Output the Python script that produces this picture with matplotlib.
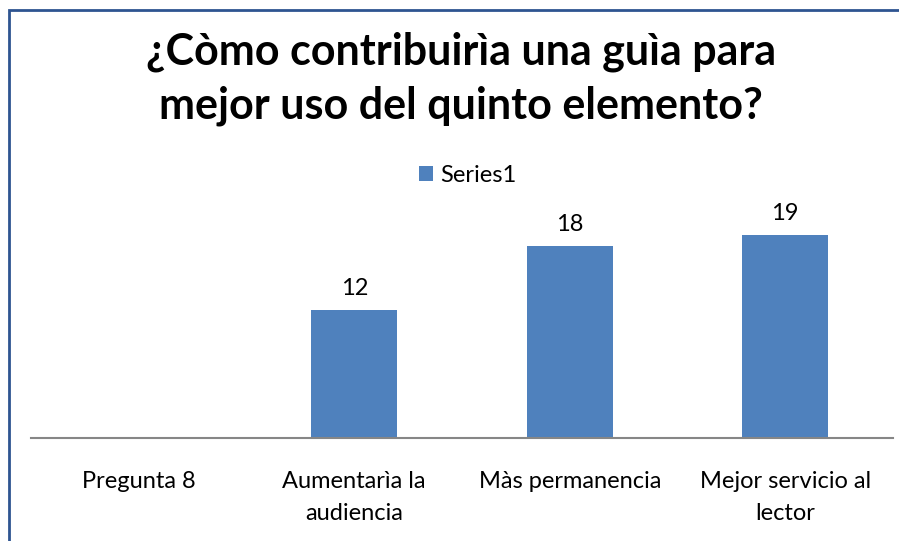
import matplotlib.pyplot as plt
from matplotlib.patches import Rectangle

plt.rcParams['font.family'] = ['Lato', 'DejaVu Sans']

# Values
categories = ["Pregunta 8", "Aumentarìa la\naudiencia", "Màs permanencia", "Mejor servicio al\nlector"]
values = [None, 12, 18, 19]
series_name = "Series1"
title_lines = ["¿Còmo contribuirìa una guìa para", "mejor uso del quinto elemento?"]

W, H = 899, 541
fig = plt.figure(figsize=(W / 100, H / 100), dpi=100)
ax = fig.add_axes([31 / W, 103 / H, (893 - 31) / W, (438 - 224.6) / H])

x = list(range(len(categories)))
heights = [v if v is not None else 0 for v in values]
bars = ax.bar(x, heights, width=0.4, color="#4F81BD", label=series_name)
for xi, v in zip(x, values):
    if v is None:
        continue
    ax.annotate(str(v), (xi, v), xytext=(0, 8), textcoords="offset points",
                ha="center", va="bottom", fontsize=17, annotation_clip=False)

ax.set_xlim(-0.5, len(categories) - 0.5)
ax.set_ylim(0, 20)
ax.set_yticks([])
ax.set_xticks(x)
ax.set_xticklabels(categories, fontsize=17, linespacing=1.65)
ax.tick_params(axis="x", length=0, pad=24)
for s in ["top", "right", "left"]:
    ax.spines[s].set_visible(False)
ax.spines["bottom"].set_color("#868686")
ax.spines["bottom"].set_linewidth(1.5)

fig.legend(handles=[bars], labels=[series_name], loc="center",
           bbox_to_anchor=(468 / W, 1 - 175 / H), frameon=False, fontsize=17,
           handlelength=0.6, handleheight=0.6, handletextpad=0.3)

fig.text(461 / W, 1 - 52 / H, title_lines[0], ha="center", va="center",
         fontsize=31, fontweight="bold")
fig.text(461 / W, 1 - 106 / H, title_lines[1], ha="center", va="center",
         fontsize=31, fontweight="bold")

fig.add_artist(Rectangle((9 / W, -0.1), 1.0, (H - 10) / H + 0.1, transform=fig.transFigure,
                         fill=False, edgecolor="#2E5491", linewidth=2))

fig.savefig("out.png", dpi=100)
